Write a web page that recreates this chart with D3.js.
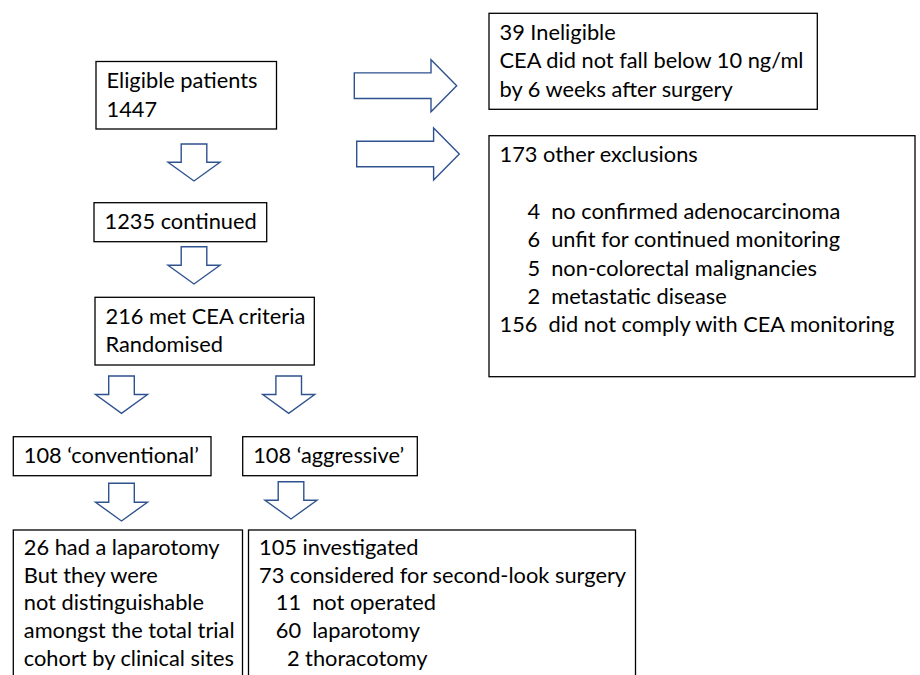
<!DOCTYPE html>
<html><head><meta charset="utf-8">
<script src="https://cdn.jsdelivr.net/npm/d3@7"></script>
<style>
html,body{margin:0;padding:0;background:#fff;}
text{white-space:pre;}
</style></head>
<body>
<svg id="chart" width="920" height="675"></svg>
<script>
// ---- data: box texts ----
const eligibleLines = ["Eligible patients", "1447"];
const continuedLines = ["1235 continued"];
const randomisedLines = ["216 met CEA criteria", "Randomised"];
const conventionalLines = ["108 \u2018conventional\u2019"];
const aggressiveLines = ["108 \u2018aggressive\u2019"];
const ineligibleLines = ["39 Ineligible", "CEA did not fall below 10 ng/ml", "by 6 weeks after surgery"];
const exclusionLines = ["173 other exclusions", "",
  "     4  no confirmed adenocarcinoma",
  "     6  unfit for continued monitoring",
  "     5  non-colorectal malignancies",
  "     2  metastatic disease",
  "156  did not comply with CEA monitoring"];
const conventionalOutcomeLines = ["26 had a laparotomy", "But they were", "not distinguishable", "amongst the total trial", "cohort by clinical sites"];
const aggressiveOutcomeLines = ["105 investigated", "73 considered for second-look surgery",
  "   11  not operated", "   60  laparotomy", "     2 thoracotomy"];

// ---- layout ----
const FONT = "Lato, 'Open Sans', sans-serif";
const FS = 21.8;
const LH = 28.3;
const boxes = [
  {lines: eligibleLines, x0: 96, y0: 61.5, x1: 276.5, y1: 129},
  {lines: continuedLines, x0: 94, y0: 202.7, x1: 266.7, y1: 241.7},
  {lines: randomisedLines, x0: 95, y0: 297.3, x1: 314.3, y1: 365},
  {lines: conventionalLines, x0: 13.3, y0: 436.7, x1: 211, y1: 475.7},
  {lines: aggressiveLines, x0: 242.7, y0: 436.7, x1: 417.3, y1: 475.7},
  {lines: ineligibleLines, x0: 489, y0: 13.3, x1: 817.3, y1: 109.3},
  {lines: exclusionLines, x0: 489, y0: 135.7, x1: 915, y1: 376.7},
  {lines: conventionalOutcomeLines, x0: 13.3, y0: 530, x1: 242.5, y1: 700, lh: 27.7, dy: 25},
  {lines: aggressiveOutcomeLines, x0: 248.5, y0: 530, x1: 635.5, y1: 700, lh: 27.7, dy: 25}
];
const downArrows = [
  {cx: 194, top: 144, tip: 181},
  {cx: 194, top: 246.7, tip: 284},
  {cx: 121.5, top: 376, tip: 413.3},
  {cx: 288.7, top: 376, tip: 413.3},
  {cx: 121.5, top: 483.3, tip: 521},
  {cx: 291, top: 481.7, tip: 519}
];
const rightArrows = [
  {left: 354.3, cy: 85.7, tip: 456.7},
  {left: 356.7, cy: 154, tip: 459.3}
];

const svg = d3.select("#chart");
const ARROW = "#2F528F";

// down arrows
const stemHalf = 12.8, headHalf = 26, headLen = 18.8;
svg.selectAll("path.down").data(downArrows).join("path")
  .attr("class", "down")
  .attr("d", a => {
    const hb = a.tip - headLen;
    return d3.line()([
      [a.cx - stemHalf, a.top], [a.cx + stemHalf, a.top], [a.cx + stemHalf, hb],
      [a.cx + headHalf, hb], [a.cx, a.tip], [a.cx - headHalf, hb], [a.cx - stemHalf, hb]
    ]) + "Z";
  })
  .attr("fill", "#fff").attr("stroke", ARROW).attr("stroke-width", 1.4)
  .attr("stroke-linejoin", "miter");

// right arrows
const rStemHalf = 12.8, rHeadHalf = 26, rHeadLen = 25.7;
svg.selectAll("path.right").data(rightArrows).join("path")
  .attr("class", "right")
  .attr("d", a => {
    const hb = a.tip - rHeadLen;
    return d3.line()([
      [a.left, a.cy - rStemHalf], [hb, a.cy - rStemHalf], [hb, a.cy - rHeadHalf],
      [a.tip, a.cy], [hb, a.cy + rHeadHalf], [hb, a.cy + rStemHalf], [a.left, a.cy + rStemHalf]
    ]) + "Z";
  })
  .attr("fill", "#fff").attr("stroke", ARROW).attr("stroke-width", 1.4);

// boxes
const g = svg.selectAll("g.box").data(boxes).join("g").attr("class", "box");
g.append("rect")
  .attr("x", d => d.x0).attr("y", d => d.y0)
  .attr("width", d => d.x1 - d.x0).attr("height", d => d.y1 - d.y0)
  .attr("fill", "#fff").attr("stroke", "#000").attr("stroke-width", 1.3);
g.each(function(d) {
  const lh = d.lh || LH, dy = d.dy || 26.7;
  d3.select(this).selectAll("text").data(d.lines).join("text")
    .attr("x", d.x0 + 10.5)
    .attr("y", (t, i) => d.y0 + dy + i * lh)
    .attr("font-family", FONT).attr("font-size", FS)
    .attr("fill", "#000")
    .attr("xml:space", "preserve")
    .text(t => t);
});
</script>
</body></html>
